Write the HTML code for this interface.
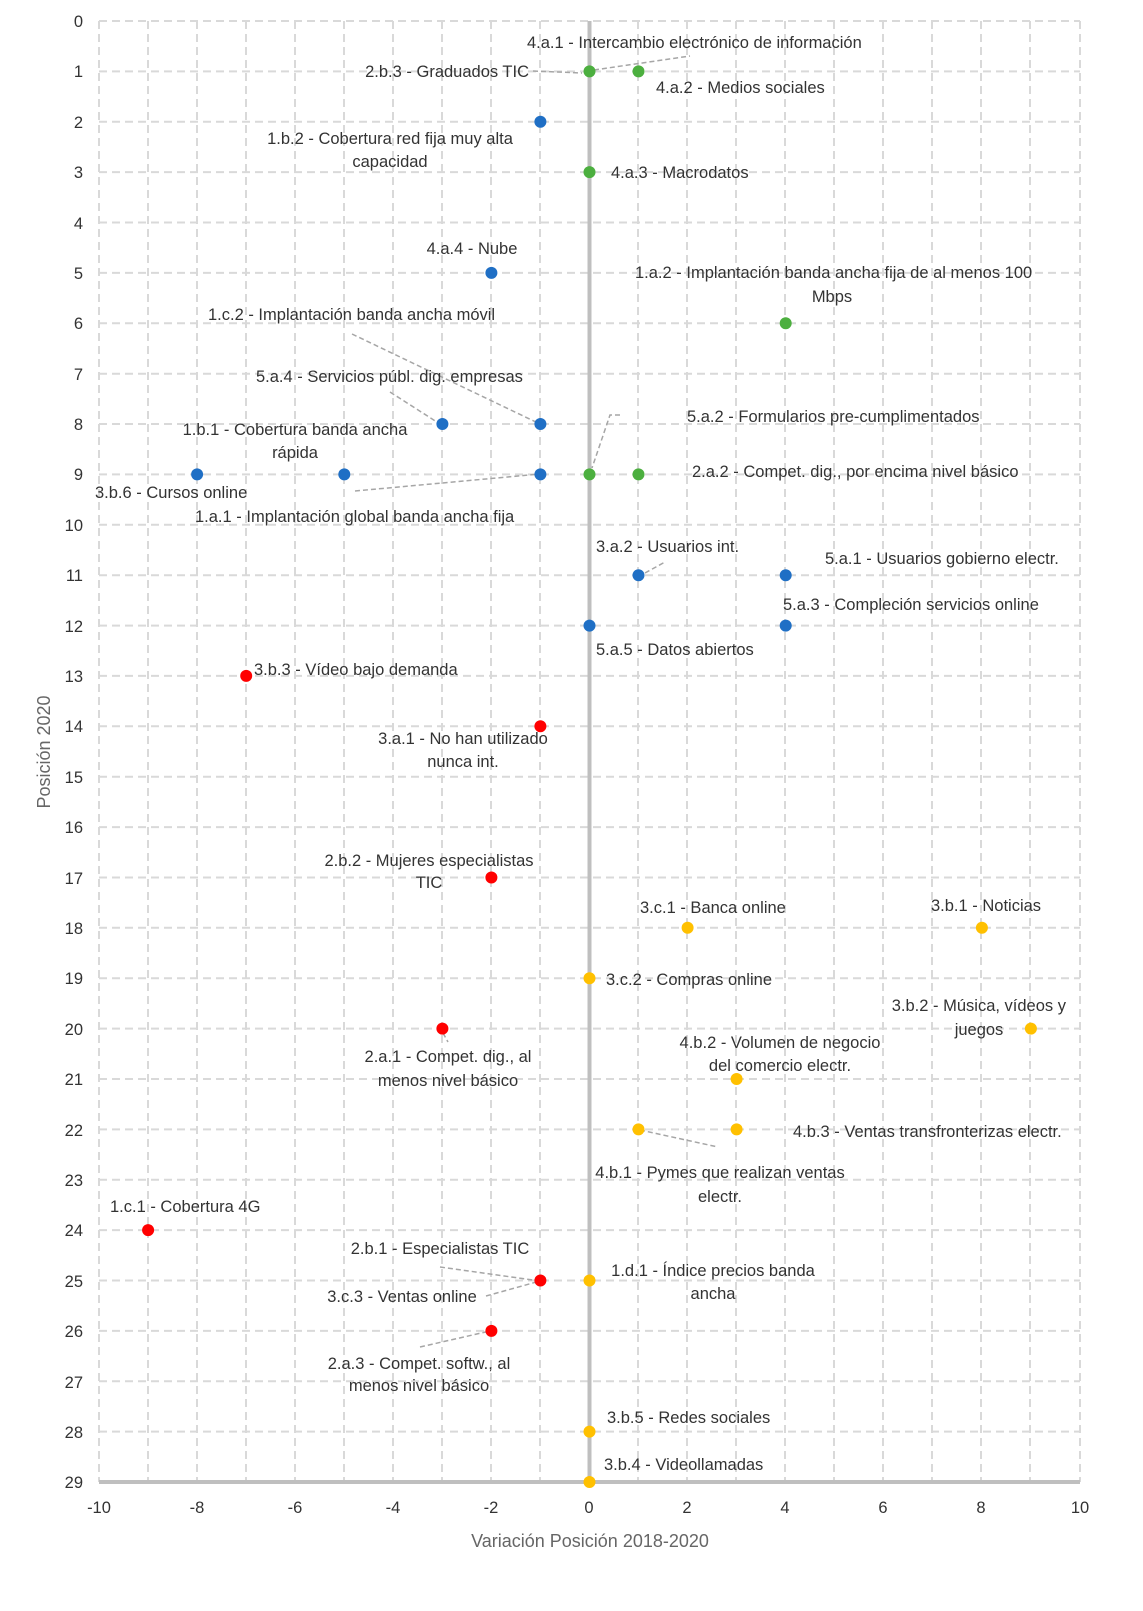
<!DOCTYPE html>
<html><head><meta charset="utf-8"><style>
html,body{margin:0;padding:0;background:#fff}
svg text{font-family:"Liberation Sans Narrow","Liberation Sans",sans-serif;font-size:16.5px;fill:#333}
</style></head><body>
<svg width="1143" height="1606" xmlns="http://www.w3.org/2000/svg">
<g stroke="#d9d9d9" stroke-width="2" stroke-dasharray="8,5" fill="none">
<path d="M99 21V1482M148 21V1482M197 21V1482M246 21V1482M295 21V1482M344 21V1482M393 21V1482M442 21V1482M491 21V1482M540 21V1482M638 21V1482M687 21V1482M736 21V1482M785 21V1482M834 21V1482M883 21V1482M932 21V1482M981 21V1482M1030 21V1482M1080 21V1482"/>
<path d="M99 21H1080M99 71.4H1080M99 121.8H1080M99 172.1H1080M99 222.5H1080M99 272.9H1080M99 323.3H1080M99 373.7H1080M99 424H1080M99 474.4H1080M99 524.8H1080M99 575.2H1080M99 625.6H1080M99 675.9H1080M99 726.3H1080M99 776.7H1080M99 827.1H1080M99 877.5H1080M99 927.8H1080M99 978.2H1080M99 1028.6H1080M99 1079H1080M99 1129.4H1080M99 1179.7H1080M99 1230.1H1080M99 1280.5H1080M99 1330.9H1080M99 1381.3H1080M99 1431.6H1080"/>
</g>
<line x1="589.5" y1="21" x2="589.5" y2="1482" stroke="#bfbfbf" stroke-width="4"/>
<line x1="99" y1="1482" x2="1080" y2="1482" stroke="#bfbfbf" stroke-width="4"/>
<g stroke="#a6a6a6" stroke-width="1.5" stroke-dasharray="5,3" fill="none">
<path d="M533 71L582 73M594 70L690 56M352 334L540 424M390 392L440 424M620 415L610 415L592 468M355 491L540 474M645 573L665 562M640 1130L718 1147M440 1267L540 1281M486 1296L540 1281M420 1347L490 1331M443 1033L448 1042"/>
</g>
<g text-anchor="end">
<text x="83" y="27">0</text><text x="83" y="77">1</text><text x="83" y="128">2</text><text x="83" y="178">3</text><text x="83" y="229">4</text><text x="83" y="279">5</text><text x="83" y="329">6</text><text x="83" y="380">7</text><text x="83" y="430">8</text><text x="83" y="480">9</text><text x="83" y="531">10</text><text x="83" y="581">11</text><text x="83" y="632">12</text><text x="83" y="682">13</text><text x="83" y="732">14</text><text x="83" y="783">15</text><text x="83" y="833">16</text><text x="83" y="884">17</text><text x="83" y="934">18</text><text x="83" y="984">19</text><text x="83" y="1035">20</text><text x="83" y="1085">21</text><text x="83" y="1136">22</text><text x="83" y="1186">23</text><text x="83" y="1236">24</text><text x="83" y="1287">25</text><text x="83" y="1337">26</text><text x="83" y="1388">27</text><text x="83" y="1438">28</text><text x="83" y="1488">29</text>
</g>
<g text-anchor="middle">
<text x="99" y="1513">-10</text><text x="197" y="1513">-8</text><text x="295" y="1513">-6</text><text x="393" y="1513">-4</text><text x="491" y="1513">-2</text><text x="589" y="1513">0</text><text x="687" y="1513">2</text><text x="785" y="1513">4</text><text x="883" y="1513">6</text><text x="981" y="1513">8</text><text x="1080" y="1513">10</text>
<text x="590" y="1547" style="fill:#666;font-size:18px">Variación Posición 2018-2020</text>
<text x="0" y="0" transform="translate(50 752) rotate(-90)" style="fill:#666;font-size:18px">Posición 2020</text>
</g>
<g fill="#4caf3f"><circle cx="589.5" cy="71.4" r="6"/><circle cx="638.5" cy="71.4" r="6"/><circle cx="589.5" cy="172.1" r="6"/><circle cx="785.7" cy="323.3" r="6"/><circle cx="589.5" cy="474.4" r="6"/><circle cx="638.5" cy="474.4" r="6"/></g>
<g fill="#1f6fc5"><circle cx="540.4" cy="121.8" r="6"/><circle cx="491.4" cy="272.9" r="6"/><circle cx="442.4" cy="424" r="6"/><circle cx="540.4" cy="424" r="6"/><circle cx="197.1" cy="474.4" r="6"/><circle cx="344.3" cy="474.4" r="6"/><circle cx="540.4" cy="474.4" r="6"/><circle cx="638.5" cy="575.2" r="6"/><circle cx="785.7" cy="575.2" r="6"/><circle cx="589.5" cy="625.6" r="6"/><circle cx="785.7" cy="625.6" r="6"/></g>
<g fill="#ff0000"><circle cx="246.2" cy="675.9" r="6"/><circle cx="540.4" cy="726.3" r="6"/><circle cx="491.4" cy="877.5" r="6"/><circle cx="442.4" cy="1028.6" r="6"/><circle cx="148.1" cy="1230.1" r="6"/><circle cx="540.4" cy="1280.5" r="6"/><circle cx="491.4" cy="1330.9" r="6"/></g>
<g fill="#ffc000"><circle cx="687.6" cy="927.8" r="6"/><circle cx="981.9" cy="927.8" r="6"/><circle cx="589.5" cy="978.2" r="6"/><circle cx="1030.9" cy="1028.6" r="6"/><circle cx="736.6" cy="1079" r="6"/><circle cx="638.5" cy="1129.4" r="6"/><circle cx="736.6" cy="1129.4" r="6"/><circle cx="589.5" cy="1280.5" r="6"/><circle cx="589.5" cy="1431.6" r="6"/><circle cx="589.5" cy="1482" r="6"/></g>
<g>
<text x="527" y="48">4.a.1 - Intercambio electrónico de información</text>
<text x="529" y="77" text-anchor="end">2.b.3 - Graduados TIC</text>
<text x="656" y="93">4.a.2 - Medios sociales</text>
<text x="390" y="144" text-anchor="middle">1.b.2 - Cobertura red fija muy alta</text>
<text x="390" y="167" text-anchor="middle">capacidad</text>
<text x="611" y="178">4.a.3 - Macrodatos</text>
<text x="472" y="254" text-anchor="middle">4.a.4 - Nube</text>
<text x="635" y="278">1.a.2 - Implantación banda ancha fija de al menos 100</text>
<text x="832" y="302" text-anchor="middle">Mbps</text>
<text x="208" y="320">1.c.2 - Implantación banda ancha móvil</text>
<text x="256" y="382">5.a.4 - Servicios públ. dig. empresas</text>
<text x="687" y="422">5.a.2 - Formularios pre-cumplimentados</text>
<text x="295" y="435" text-anchor="middle">1.b.1 - Cobertura banda ancha</text>
<text x="295" y="458" text-anchor="middle">rápida</text>
<text x="692" y="477">2.a.2 - Compet. dig., por encima nivel básico</text>
<text x="95" y="498">3.b.6 - Cursos online</text>
<text x="195" y="522">1.a.1 - Implantación global banda ancha fija</text>
<text x="596" y="552">3.a.2 - Usuarios int.</text>
<text x="825" y="564">5.a.1 - Usuarios gobierno electr.</text>
<text x="783" y="610">5.a.3 - Compleción servicios online</text>
<text x="596" y="655">5.a.5 - Datos abiertos</text>
<text x="254" y="675">3.b.3 - Vídeo bajo demanda</text>
<text x="463" y="744" text-anchor="middle">3.a.1 - No han utilizado</text>
<text x="463" y="767" text-anchor="middle">nunca int.</text>
<text x="429" y="866" text-anchor="middle">2.b.2 - Mujeres especialistas</text>
<text x="429" y="888" text-anchor="middle">TIC</text>
<text x="640" y="913">3.c.1 - Banca online</text>
<text x="931" y="911">3.b.1 - Noticias</text>
<text x="606" y="985">3.c.2 - Compras online</text>
<text x="1066" y="1011" text-anchor="end">3.b.2 - Música, vídeos y</text>
<text x="979" y="1035" text-anchor="middle">juegos</text>
<text x="780" y="1048" text-anchor="middle">4.b.2 - Volumen de negocio</text>
<text x="780" y="1071" text-anchor="middle">del comercio electr.</text>
<text x="448" y="1062" text-anchor="middle">2.a.1 - Compet. dig., al</text>
<text x="448" y="1086" text-anchor="middle">menos nivel básico</text>
<text x="793" y="1137">4.b.3 - Ventas transfronterizas electr.</text>
<text x="720" y="1178" text-anchor="middle">4.b.1 - Pymes que realizan ventas</text>
<text x="720" y="1202" text-anchor="middle">electr.</text>
<text x="110" y="1212">1.c.1 - Cobertura 4G</text>
<text x="440" y="1254" text-anchor="middle">2.b.1 - Especialistas TIC</text>
<text x="713" y="1276" text-anchor="middle">1.d.1 - Índice precios banda</text>
<text x="713" y="1299" text-anchor="middle">ancha</text>
<text x="402" y="1302" text-anchor="middle">3.c.3 - Ventas online</text>
<text x="419" y="1369" text-anchor="middle">2.a.3 - Compet. softw., al</text>
<text x="419" y="1391" text-anchor="middle">menos nivel básico</text>
<text x="607" y="1423">3.b.5 - Redes sociales</text>
<text x="604" y="1470">3.b.4 - Videollamadas</text>
</g>
</svg>
</body></html>
